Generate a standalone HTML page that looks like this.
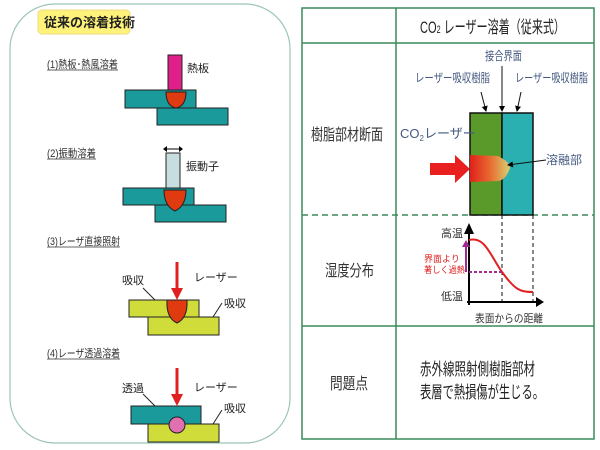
<!DOCTYPE html>
<html><head><meta charset="utf-8"><style>
body{margin:0;background:#fff;}
svg{display:block;font-family:"Liberation Sans","Noto Sans CJK JP",sans-serif;}
</style></head><body>
<svg width="600" height="450" viewBox="0 0 600 450" xmlns="http://www.w3.org/2000/svg">
<defs>
<linearGradient id="mg" x1="0" x2="1" y1="0" y2="0">
<stop offset="0" stop-color="#e0201a"/><stop offset="0.5" stop-color="#e86a30"/><stop offset="1" stop-color="#d8d070"/>
</linearGradient>
<marker id="ah" markerWidth="6" markerHeight="6" refX="5" refY="3" orient="auto"><path d="M0,0 L6,3 L0,6z" fill="#000"/></marker>
</defs>
<rect x="10" y="4" width="280" height="439" rx="45" fill="#fff" stroke="#9cc4b8" stroke-width="1.2"/>
<rect x="38" y="10" width="92" height="24" rx="4" fill="#fff27a" stroke="#e8dc80"/>
<text x="44" y="27" font-size="13" font-weight="bold" fill="#222">従来の溶着技術</text>
<g font-size="11" fill="#333">
<text x="47" y="68" textLength="71" lengthAdjust="spacingAndGlyphs">(1)熱板･熱風溶着</text><line x1="47" y1="70" x2="118" y2="70" stroke="#333" stroke-width="0.7"/>
<text x="47" y="157" textLength="49" lengthAdjust="spacingAndGlyphs">(2)振動溶着</text><line x1="47" y1="159" x2="96" y2="159" stroke="#333" stroke-width="0.7"/>
<text x="47" y="245" textLength="73" lengthAdjust="spacingAndGlyphs">(3)レーザ直接照射</text><line x1="47" y1="247" x2="120" y2="247" stroke="#333" stroke-width="0.7"/>
<text x="47" y="357" textLength="73" lengthAdjust="spacingAndGlyphs">(4)レーザ透過溶着</text><line x1="47" y1="359" x2="120" y2="359" stroke="#333" stroke-width="0.7"/>
</g>
<g stroke="#222" stroke-width="1">
<rect x="168" y="55" width="14" height="35" fill="#e0208a"/>
<rect x="125" y="90" width="71" height="18" fill="#1a9a9a"/>
<rect x="157" y="108" width="71" height="17" fill="#1a9a9a"/>
<path d="M166,92 L186,92 Q186,106 176,108 Q166,106 166,92z" fill="#e03a10"/>
<rect x="166" y="153" width="14" height="35" fill="#c8dde0"/>
<rect x="123" y="188" width="71" height="17" fill="#1a9a9a"/>
<rect x="155" y="205" width="71" height="17" fill="#1a9a9a"/>
<path d="M164,190 L186,190 Q186,206 175,211 Q164,206 164,190z" fill="#e03a10"/>
<rect x="129" y="300" width="70" height="17" fill="#cfdc3a"/>
<rect x="148" y="317" width="71" height="18" fill="#cfdc3a"/>
<path d="M167,300 L187,300 Q188,318 177,323 Q166,318 167,300z" fill="#e03a10"/>
<line x1="143" y1="288" x2="155" y2="300"/>
<line x1="213" y1="317" x2="222" y2="303"/>
<rect x="131" y="406" width="70" height="18" fill="#1a9a9a"/>
<rect x="148" y="424" width="71" height="18" fill="#cfdc3a"/>
<circle cx="177" cy="425" r="8" fill="#e070b0"/>
<line x1="143" y1="394" x2="155" y2="406"/>
<line x1="213" y1="424" x2="222" y2="410"/>
</g>
<path d="M165,149 L181,149" stroke="#000" stroke-width="1"/>
<path d="M163,149 l4,-3 v6z M183,149 l-4,-3 v6z" fill="#000"/>
<g stroke="#e02020" stroke-width="3"><line x1="177" y1="262" x2="177" y2="290"/><line x1="177" y1="368" x2="177" y2="396"/></g>
<path d="M171,288 L183,288 L177,300z M171,394 L183,394 L177,406z" fill="#e02020"/>
<g font-size="11" fill="#222">
<text x="187" y="72">熱板</text>
<text x="186" y="170">振動子</text>
<text x="194" y="281">レーザー</text>
<text x="122" y="284">吸収</text>
<text x="224" y="307">吸収</text>
<text x="194" y="391">レーザー</text>
<text x="122" y="392">透過</text>
<text x="224" y="412">吸収</text>
</g>
<g stroke="#3a8a5a" stroke-width="1.5" fill="none">
<rect x="302" y="8" width="292" height="431"/>
<line x1="396" y1="8" x2="396" y2="439"/>
<line x1="302" y1="43" x2="594" y2="43"/>
<line x1="302" y1="326" x2="594" y2="326"/>
<line x1="302" y1="215" x2="594" y2="215" stroke-dasharray="6,4"/>
</g>
<text x="420" y="33" font-size="17" fill="#222" textLength="145" lengthAdjust="spacingAndGlyphs">CO<tspan font-size="11">2</tspan> レーザー溶着（従来式）</text>
<g font-size="16" fill="#333">
<text x="311" y="140" textLength="72" lengthAdjust="spacingAndGlyphs">樹脂部材断面</text>
<text x="325" y="276" textLength="49" lengthAdjust="spacingAndGlyphs">湿度分布</text>
<text x="330" y="389" textLength="38" lengthAdjust="spacingAndGlyphs">問題点</text>
</g>
<g font-size="17" fill="#222">
<text x="420" y="375" textLength="115" lengthAdjust="spacingAndGlyphs">赤外線照射側樹脂部材</text>
<text x="420" y="398" textLength="124" lengthAdjust="spacingAndGlyphs">表層で熱損傷が生じる。</text>
</g>
<rect x="470" y="113" width="32" height="102" fill="#5a9a2a" stroke="#111" stroke-width="1.5"/>
<rect x="502" y="113" width="31" height="102" fill="#2ab0b0" stroke="#111" stroke-width="1.5"/>
<path d="M470,155 L498,156 Q510,162 510,168 Q506,180 498,181 L470,182z" fill="url(#mg)"/>
<path d="M430,163 L455,163 L455,155 L470,169 L455,183 L455,175 L430,175z" fill="#e82020"/>
<g font-size="12" fill="#445a80">
<text x="485" y="60" textLength="37" lengthAdjust="spacingAndGlyphs">接合界面</text>
<text x="415" y="82" textLength="75" lengthAdjust="spacingAndGlyphs">レーザー吸収樹脂</text>
<text x="515" y="82" textLength="73" lengthAdjust="spacingAndGlyphs">レーザー吸収樹脂</text>
<text x="400" y="138" font-size="13">CO<tspan font-size="8" dy="3">2</tspan><tspan dy="-3">レーザー</tspan></text>
<text x="546" y="164">溶融部</text>
</g>
<g stroke="#111" stroke-width="1" fill="none">
<line x1="481" y1="92" x2="486" y2="111" marker-end="url(#ah)"/>
<line x1="502" y1="66" x2="502" y2="111" marker-end="url(#ah)"/>
<line x1="521" y1="92" x2="517" y2="111" marker-end="url(#ah)"/>
<line x1="546" y1="160" x2="508" y2="165" marker-end="url(#ah)"/>
<line x1="502" y1="215" x2="502" y2="302" stroke-dasharray="4,3"/>
<line x1="533" y1="215" x2="533" y2="302" stroke-dasharray="4,3"/>
</g>
<g stroke="#000" stroke-width="2">
<line x1="469" y1="305" x2="469" y2="232"/><line x1="467" y1="302" x2="538" y2="302"/>
</g>
<path d="M464,234 L469,223 L474,234z M536,297 L544,302 L536,307z" fill="#000"/>
<path d="M469,240 C485,236 490,255 502,272 C515,290 520,292 533,292" stroke="#e02020" stroke-width="2" fill="none"/>
<line x1="469" y1="272" x2="502" y2="272" stroke="#a02890" stroke-width="2" stroke-dasharray="3,2"/>
<line x1="466" y1="272" x2="466" y2="246" stroke="#a02890" stroke-width="2"/>
<path d="M462,247 L466,240 L470,247z" fill="#a02890"/>
<g font-size="11" fill="#333">
<text x="441" y="237">高温</text>
<text x="441" y="300">低温</text>
<text x="475" y="322" textLength="68" lengthAdjust="spacingAndGlyphs">表面からの距離</text>
</g>
<g font-size="9" fill="#e02020">
<text x="424" y="262">界面より</text>
<text x="424" y="273" textLength="41" lengthAdjust="spacingAndGlyphs">著しく過熱</text>
</g>
</svg>
</body></html>
